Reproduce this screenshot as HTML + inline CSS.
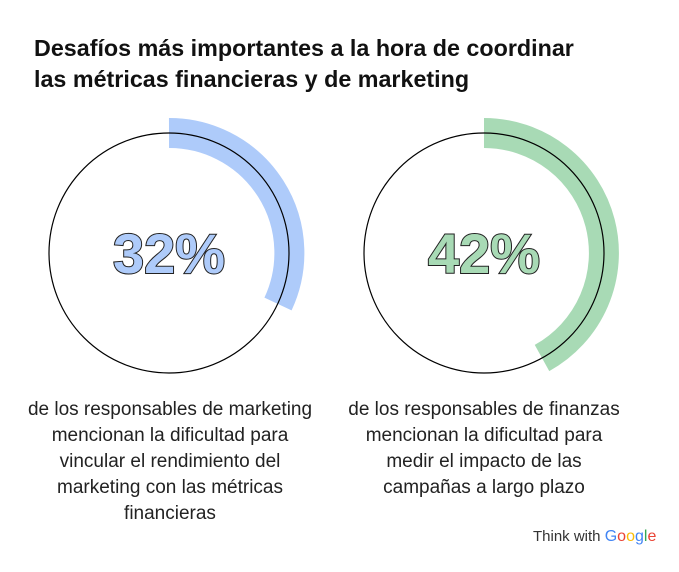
<!DOCTYPE html>
<html><head><meta charset="utf-8"><style>
body{margin:0;width:679px;height:572px;background:#fff;font-family:"Liberation Sans",sans-serif;overflow:hidden;position:relative}
h1{position:absolute;left:34px;top:33px;margin:0;font-size:23.3px;line-height:31px;font-weight:bold;color:#111}
.cap{position:absolute;text-align:center;font-size:19px;line-height:26px;color:#222}
.logo{position:absolute;left:533px;top:528px;font-size:15px;color:#333}
</style></head><body>
<h1>Desafíos más importantes a la hora de coordinar<br>las métricas financieras y de marketing</h1>
<svg width="679" height="572" style="position:absolute;left:0;top:0">
<path d="M169 133 A120 120 0 0 1 278 304" fill="none" stroke="#aecbfa" stroke-width="30"/>
<circle cx="169" cy="253" r="120" fill="none" stroke="#000" stroke-width="1.2"/>
<path d="M484 133 A120 120 0 0 1 542 358" fill="none" stroke="#a8dab5" stroke-width="30"/>
<circle cx="484" cy="253" r="120" fill="none" stroke="#000" stroke-width="1.2"/>
<text x="169" y="273" text-anchor="middle" font-family="Liberation Sans" font-weight="bold" font-size="56" fill="#aecbfa" stroke="#222" stroke-width="2" paint-order="stroke">32%</text>
<text x="484" y="273" text-anchor="middle" font-family="Liberation Sans" font-weight="bold" font-size="56" fill="#a8dab5" stroke="#222" stroke-width="2" paint-order="stroke">42%</text>
</svg>
<div class="cap" style="left:0px;width:340px;top:397px">de los responsables de marketing<br>mencionan la dificultad para<br>vincular el rendimiento del<br>marketing con las métricas<br>financieras</div>
<div class="cap" style="left:314px;width:340px;top:397px">de los responsables de finanzas<br>mencionan la dificultad para<br>medir el impacto de las<br>campañas a largo plazo</div>
<div class="logo">Think with <b style="font-weight:normal;font-size:16px"><span style="color:#4285f4">G</span><span style="color:#ea4335">o</span><span style="color:#fbbc05">o</span><span style="color:#4285f4">g</span><span style="color:#34a853">l</span><span style="color:#ea4335">e</span></b></div>
</body></html>
